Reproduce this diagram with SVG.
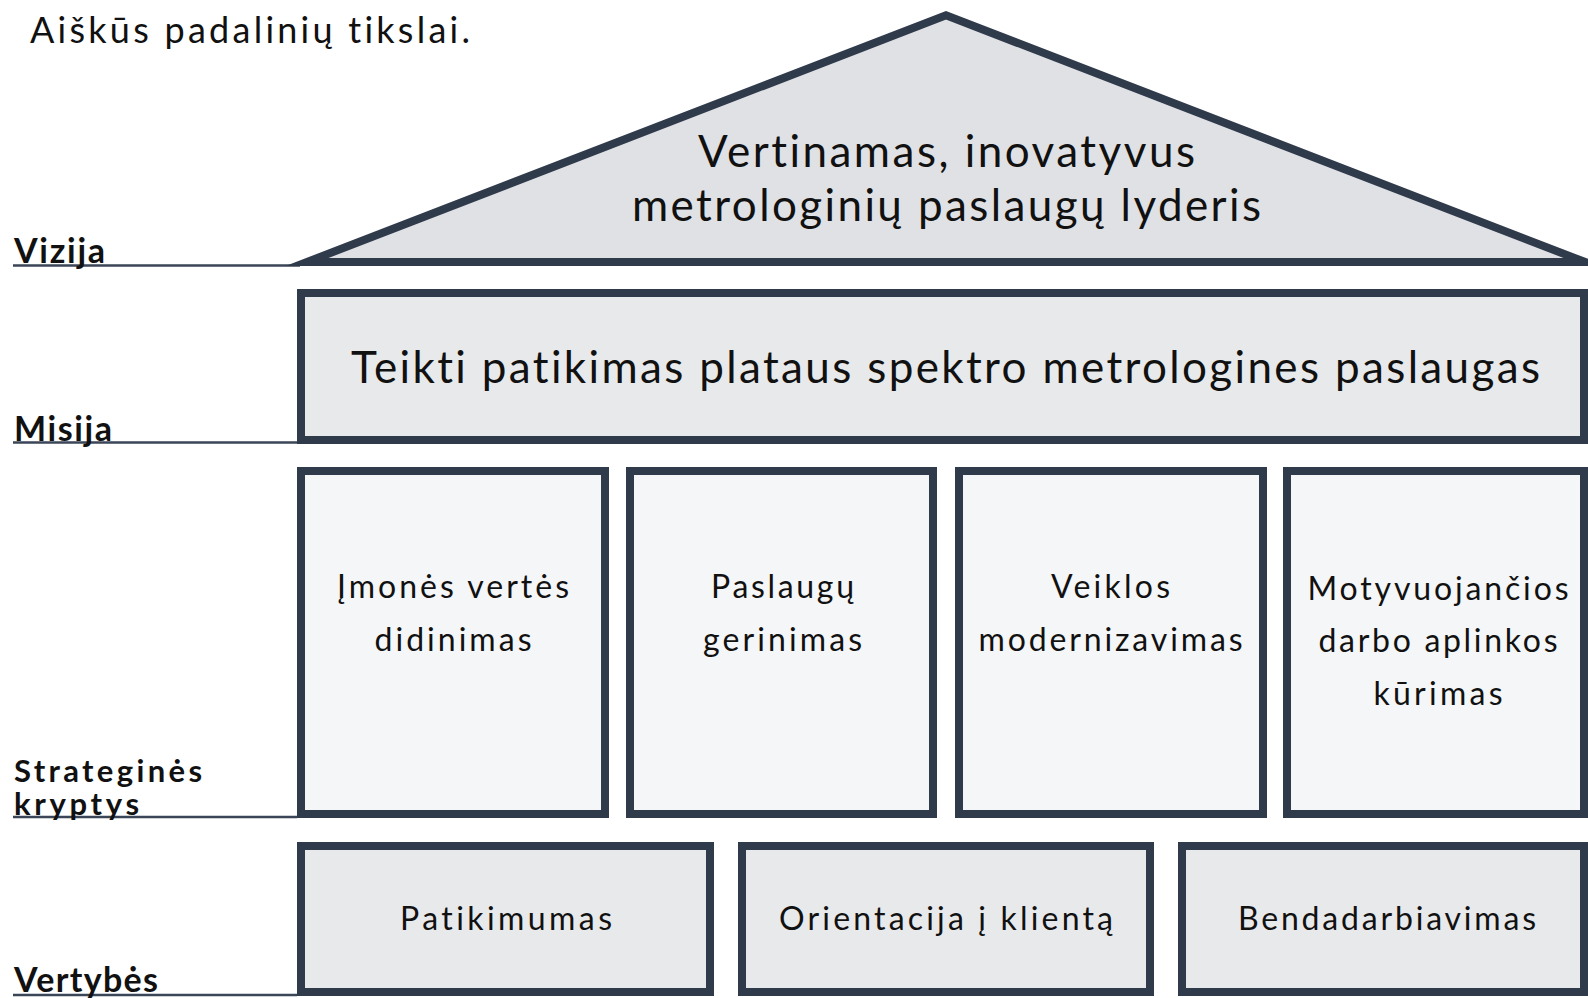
<svg xmlns="http://www.w3.org/2000/svg" width="1588" height="998" viewBox="0 0 1588 998">
<style>
text{font-variant-ligatures:none;font-feature-settings:"liga" 0,"clig" 0}
.box{stroke:#2f3a4b;stroke-width:8;stroke-linejoin:miter;stroke-miterlimit:12}
.roof{fill:#e0e1e5}
.mis{fill:#e8e9eb}
.str{fill:#f5f6f8}
.val{fill:#e8e9eb}
.t{font-family:Lato,"Open Sans","Liberation Sans",sans-serif;fill:#111;text-anchor:middle}
.big{font-size:44px}
.mid{font-size:32px}
.lbl{font-family:Lato,"Open Sans","Liberation Sans",sans-serif;font-weight:700;font-size:34px;fill:#111}
.lbs{font-size:31px}
.ln{stroke:#3a4557;stroke-width:2.5;fill:none}
</style>
<rect width="1588" height="998" fill="#fff"/>
<text x="30" y="43" font-family="Lato,'Open Sans','Liberation Sans',sans-serif" font-weight="400" font-size="36" fill="#111" textLength="440" lengthAdjust="spacing">Aiškūs padalinių tikslai.</text>
<g id="connectors">
<line class="ln" x1="13" y1="265.5" x2="300" y2="265.5"/>
<line class="ln" x1="13" y1="442.5" x2="297" y2="442.5"/>
<line class="ln" x1="13" y1="817" x2="297" y2="817"/>
<line class="ln" x1="13" y1="995" x2="297" y2="995"/>
</g>
<g id="labels">
<text class="lbl" x="14" y="263" textLength="91" lengthAdjust="spacing">Vizija</text>
<text class="lbl" x="14" y="441" textLength="98" lengthAdjust="spacing">Misija</text>
<text class="lbl lbs" x="14" y="782" textLength="188" lengthAdjust="spacing">Strateginės</text>
<text class="lbl lbs" x="14" y="815" textLength="125" lengthAdjust="spacing">kryptys</text>
<text class="lbl" x="14" y="992" textLength="144" lengthAdjust="spacing">Vertybės</text>
</g>
<g id="vizija">
<polygon class="box roof" points="307,262 946,15.3 1585,262"/>
<text class="t big" x="946.5" y="167" textLength="497" lengthAdjust="spacing">Vertinamas, inovatyvus</text>
<text class="t big" x="946.5" y="221" textLength="629" lengthAdjust="spacing">metrologinių paslaugų lyderis</text>
</g>
<g id="misija">
<rect class="box mis" x="301" y="293" width="1283" height="147"/>
<text class="t big" x="945.5" y="383" textLength="1189" lengthAdjust="spacing">Teikti patikimas plataus spektro metrologines paslaugas</text>
</g>
<g id="kryptis1">
<rect class="box str" x="301" y="471" width="304" height="343"/>
<text class="t mid" x="453" y="598" textLength="232" lengthAdjust="spacing">Įmonės vertės</text>
<text class="t mid" x="453" y="651" textLength="157" lengthAdjust="spacing">didinimas</text>
</g>
<g id="kryptis2">
<rect class="box str" x="630" y="471" width="303" height="343"/>
<text class="t mid" x="782.5" y="598" textLength="143" lengthAdjust="spacing">Paslaugų</text>
<text class="t mid" x="782.5" y="651" textLength="159" lengthAdjust="spacing">gerinimas</text>
</g>
<g id="kryptis3">
<rect class="box str" x="959" y="471" width="304" height="343"/>
<text class="t mid" x="1110.5" y="598" textLength="119" lengthAdjust="spacing">Veiklos</text>
<text class="t mid" x="1110.5" y="651" textLength="264" lengthAdjust="spacing">modernizavimas</text>
</g>
<g id="kryptis4">
<rect class="box str" x="1287" y="471" width="297" height="343"/>
<text class="t mid" x="1438" y="600" textLength="261" lengthAdjust="spacing">Motyvuojančios</text>
<text class="t mid" x="1438" y="652" textLength="239" lengthAdjust="spacing">darbo aplinkos</text>
<text class="t mid" x="1438" y="705" textLength="129" lengthAdjust="spacing">kūrimas</text>
</g>
<g id="vertybe1">
<rect class="box val" x="301" y="846" width="409" height="146"/>
<text class="t mid" x="506" y="930" textLength="212" lengthAdjust="spacing">Patikimumas</text>
</g>
<g id="vertybe2">
<rect class="box val" x="742" y="846" width="408" height="146"/>
<text class="t mid" x="946" y="930" textLength="334" lengthAdjust="spacing">Orientacija į klientą</text>
</g>
<g id="vertybe3">
<rect class="box val" x="1182" y="846" width="402" height="146"/>
<text class="t mid" x="1387" y="930" textLength="298" lengthAdjust="spacing">Bendadarbiavimas</text>
</g>
</svg>
